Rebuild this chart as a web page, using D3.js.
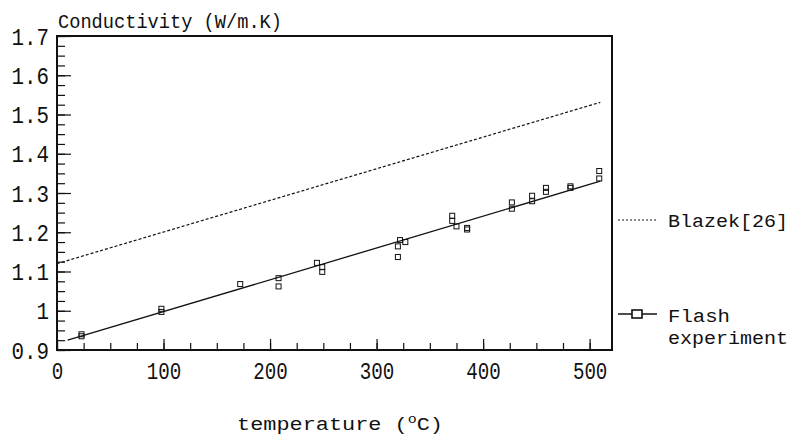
<!DOCTYPE html>
<html>
<head>
<meta charset="utf-8">
<script src="https://cdn.jsdelivr.net/npm/d3@7"></script>
<style>
  body { margin: 0; background: #fff; }
  text { font-family: "Liberation Mono", "DejaVu Sans Mono", monospace; fill: #111; }
</style>
</head>
<body>
<div class="chart"></div>
<script>
// measured points (Flash experiment)
const temps = [23, 23, 98, 98, 172, 208, 208, 244, 249, 249, 320, 320, 322, 327,
               371, 371, 375, 385, 385, 427, 427, 446, 446, 459, 459, 482, 482, 509, 509];
const conds = [0.935, 0.940, 1.005, 0.997, 1.068, 1.083, 1.062, 1.122, 1.111, 1.099,
               1.164, 1.137, 1.180, 1.175, 1.242, 1.229, 1.215, 1.207, 1.211, 1.276,
               1.260, 1.293, 1.279, 1.313, 1.303, 1.317, 1.313, 1.356, 1.337];

// fitted line through the experiment
const fitT = [10, 510];
const fitK = [0.925, 1.330];

// Blazek[26]
const blazekT = [0, 510];
const blazekK = [1.120, 1.531];

const xTicks = [0, 100, 200, 300, 400, 500];
const xMinor = d3.range(0, 521, 25);
const yTicks = [0.9, 1.0, 1.1, 1.2, 1.3, 1.4, 1.5, 1.6, 1.7];
const yTickLabels = ["0.9", "1", "1.1", "1.2", "1.3", "1.4", "1.5", "1.6", "1.7"];
const yMinor = d3.range(0.9, 1.7001, 0.025);

const width = 796;
const height = 437;

const svg = d3.select('.chart')
  .append('svg')
  .attr('width', width)
  .attr('height', height);

const x = d3.scaleLinear().domain([0, 521]).range([57, 612]);
const y = d3.scaleLinear().domain([0.9, 1.7]).range([350, 36]);

// minor ticks
svg.append("g")
  .attr("transform", "translate(57,0)")
  .call(d3.axisLeft(y).tickValues(yMinor).tickSizeInner(-8).tickSizeOuter(0).tickFormat(""))
  .call(g => g.select(".domain").remove());
svg.append("g")
  .attr("transform", "translate(0,350)")
  .call(d3.axisBottom(x).tickValues(xMinor).tickSizeInner(-7).tickSizeOuter(0).tickFormat(""))
  .call(g => g.select(".domain").remove());

// major ticks with labels
const yAxis = svg.append("g")
  .attr("transform", "translate(57,0)")
  .call(d3.axisLeft(y).tickValues(yTicks).tickSizeInner(-14).tickSizeOuter(0).tickPadding(8)
    .tickFormat((d, i) => yTickLabels[i]));
yAxis.select(".domain").remove();
yAxis.selectAll("text")
  .attr("font-size", 24)
  .attr("dy", "0.34em")
  .attr("textLength", function(d, i) { return yTickLabels[i].length * 12.5; })
  .attr("lengthAdjust", "spacingAndGlyphs");

const xAxis = svg.append("g")
  .attr("transform", "translate(0,350)")
  .call(d3.axisBottom(x).tickValues(xTicks).tickSizeInner(-11).tickSizeOuter(0).tickPadding(12));
xAxis.select(".domain").remove();
xAxis.selectAll("text")
  .attr("font-size", 24)
  .attr("dy", "0.71em")
  .attr("textLength", function(d) { return String(d).length * 11.5; })
  .attr("lengthAdjust", "spacingAndGlyphs");

svg.selectAll(".tick line").attr("stroke", "#111").attr("stroke-width", 1.2);

// frame
svg.append("rect")
  .attr("x", x(0))
  .attr("y", y(1.7))
  .attr("width", x(521) - x(0))
  .attr("height", y(0.9) - y(1.7))
  .attr("fill", "none")
  .attr("stroke", "#111")
  .attr("stroke-width", 2);

const line = d3.line().x(d => x(d[0])).y(d => y(d[1]));

// Blazek dotted line
svg.append("path")
  .attr("d", line(d3.zip(blazekT, blazekK)))
  .attr("fill", "none")
  .attr("stroke", "#111")
  .attr("stroke-width", 1.2)
  .attr("stroke-dasharray", "3,2");

// fit line
svg.append("path")
  .attr("d", line(d3.zip(fitT, fitK)))
  .attr("fill", "none")
  .attr("stroke", "#111")
  .attr("stroke-width", 1.3);

// points
svg.selectAll("rect.pt")
  .data(d3.zip(temps, conds))
  .enter()
  .append("rect")
  .attr("class", "pt")
  .attr("x", d => x(d[0]) - 2.5)
  .attr("y", d => y(d[1]) - 2.5)
  .attr("width", 5)
  .attr("height", 5)
  .attr("fill", "none")
  .attr("stroke", "#111")
  .attr("stroke-width", 1);

// titles
svg.append("text")
  .text("Conductivity (W/m.K)")
  .attr("x", 58)
  .attr("y", 28)
  .attr("font-size", 20)
  .attr("textLength", 224)
  .attr("lengthAdjust", "spacingAndGlyphs");

const xt = svg.append("text")
  .attr("x", 237)
  .attr("y", 430)
  .attr("font-size", 19)
  .attr("textLength", 206)
  .attr("lengthAdjust", "spacingAndGlyphs");
xt.append("tspan").text("temperature (");
xt.append("tspan").text("o").attr("font-size", 13).attr("dy", -7);
xt.append("tspan").text("C)").attr("dy", 7);

// legend
svg.append("line")
  .attr("x1", 618).attr("x2", 657)
  .attr("y1", 220).attr("y2", 220)
  .attr("stroke", "#111")
  .attr("stroke-width", 1.2)
  .attr("stroke-dasharray", "2,2");
svg.append("text")
  .text("Blazek[26]")
  .attr("x", 668)
  .attr("y", 227)
  .attr("font-size", 19)
  .attr("textLength", 120)
  .attr("lengthAdjust", "spacingAndGlyphs");

svg.append("line")
  .attr("x1", 618).attr("x2", 657)
  .attr("y1", 314).attr("y2", 314)
  .attr("stroke", "#111")
  .attr("stroke-width", 1.3);
svg.append("rect")
  .attr("x", 632).attr("y", 310)
  .attr("width", 10).attr("height", 8)
  .attr("fill", "#fff")
  .attr("stroke", "#111")
  .attr("stroke-width", 1.6);
svg.append("text")
  .text("Flash")
  .attr("x", 668)
  .attr("y", 322)
  .attr("font-size", 19)
  .attr("textLength", 62)
  .attr("lengthAdjust", "spacingAndGlyphs");
svg.append("text")
  .text("experiment")
  .attr("x", 668)
  .attr("y", 344)
  .attr("font-size", 19)
  .attr("textLength", 120)
  .attr("lengthAdjust", "spacingAndGlyphs");
</script>
</body>
</html>
